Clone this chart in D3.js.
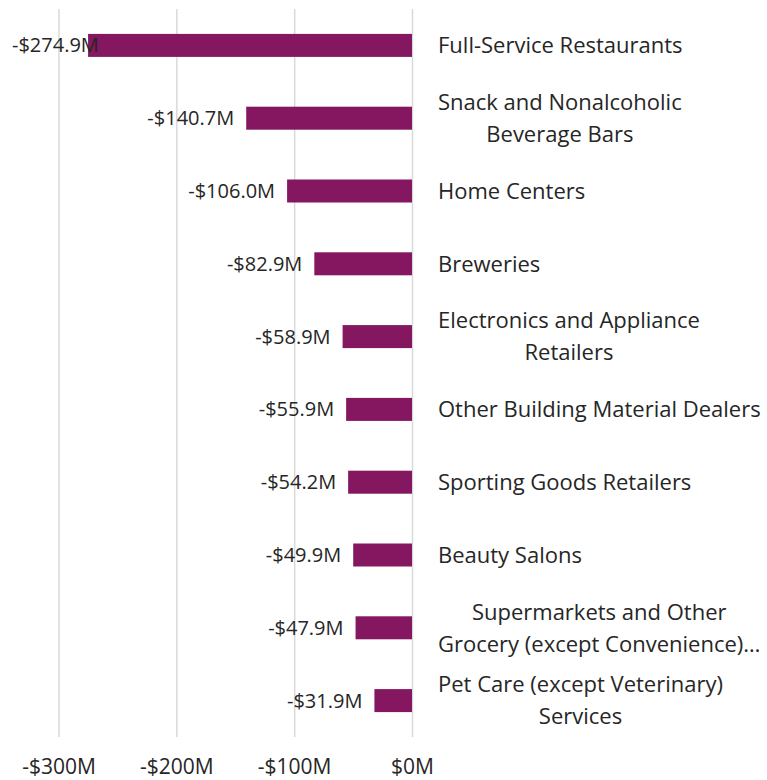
<!DOCTYPE html>
<html>
<head>
<meta charset="utf-8">
<script src="https://cdn.jsdelivr.net/npm/d3@7"></script>
<style>
  body { margin: 0; background: #fff; }
  text { font-family: "Open Sans", "Noto Sans", sans-serif; fill: #262626; }
</style>
</head>
<body>
<div id="chart"></div>
<script>
// categories as shown (line breaks where the label wraps)
var categories = [
    "Full-Service Restaurants",
    "Snack and Nonalcoholic\nBeverage Bars",
    "Home Centers",
    "Breweries",
    "Electronics and Appliance\nRetailers",
    "Other Building Material Dealers",
    "Sporting Goods Retailers",
    "Beauty Salons",
    "Supermarkets and Other\nGrocery (except Convenience)…",
    "Pet Care (except Veterinary)\nServices"
];
// change in $M
var values = [-274.9, -140.7, -106.0, -82.9, -58.9, -55.9, -54.2, -49.9, -47.9, -31.9];
var xTicks = [-300, -200, -100, 0];

var svgWidth = 767;
var svgHeight = 780;

var plotTop = 9;
var plotBottom = 737;
var labelX = 438;

var svg = d3.select("#chart")
    .append("svg")
        .attr("width", svgWidth)
        .attr("height", svgHeight);

var xScale = d3.scaleLinear()
    .domain([-300, 0])
    .range([58.5, 412]);

var yScale = d3.scaleBand()
    .domain(categories)
    .range([plotTop, plotBottom])
    .paddingInner(0.684)
    .paddingOuter(0.342);

// gridlines + tick labels
var xAxis = d3.axisBottom(xScale)
    .tickValues(xTicks)
    .tickSize(-(plotBottom - plotTop))
    .tickPadding(22)
    .tickFormat(function (d) { return d === 0 ? "$0M" : "-$" + Math.abs(d) + "M"; });

var axisG = svg.append("g")
    .attr("transform", `translate(0, ${plotBottom})`)
    .call(xAxis);

axisG.select(".domain").remove();
axisG.selectAll(".tick line")
    .attr("stroke", "#d9d9d9")
    .attr("stroke-width", 1.5);
axisG.selectAll(".tick text")
    .attr("fill", "#262626")
    .style("font-family", '"Open Sans", "Noto Sans", sans-serif')
    .style("font-size", "21px");

// bars
svg.selectAll(".bar")
    .data(values)
    .enter()
    .append("rect")
        .attr("class", "bar")
        .attr("x", function (d) { return xScale(d); })
        .attr("y", function (d, i) { return yScale(categories[i]); })
        .attr("width", function (d) { return xScale(0) - xScale(d); })
        .attr("height", yScale.bandwidth())
        .attr("fill", "#84175f");

// value labels, kept inside the chart on the left
var valueLabels = svg.selectAll(".value")
    .data(values)
    .enter()
    .append("text")
        .attr("class", "value")
        .attr("y", function (d, i) { return yScale(categories[i]) + yScale.bandwidth() / 2; })
        .attr("dy", "0.35em")
        .style("font-size", "20px")
        .text(function (d) { return "-$" + d3.format(".1f")(Math.abs(d)) + "M"; });

valueLabels.each(function (d) {
    var w = this.getComputedTextLength();
    var right = Math.max(xScale(d) - 12, 12 + w);
    d3.select(this).attr("x", right).attr("text-anchor", "end");
});

// category labels, each block centred on its own widest line
var catLabels = svg.selectAll(".cat")
    .data(categories)
    .enter()
    .append("text")
        .attr("class", "cat")
        .style("font-size", "22px");

catLabels.each(function (d) {
    var lines = d.split("\n");
    var el = d3.select(this);
    var yc = yScale(d) + yScale.bandwidth() / 2;
    var spans = lines.map(function (line, j) {
        return el.append("tspan")
            .attr("y", yc + (j - (lines.length - 1) / 2) * 32)
            .attr("dy", "0.35em")
            .text(line);
    });
    var maxW = d3.max(spans, function (s) { return s.node().getComputedTextLength(); });
    spans.forEach(function (s) {
        s.attr("x", labelX + maxW / 2).attr("text-anchor", "middle");
    });
});
</script>
</body>
</html>
